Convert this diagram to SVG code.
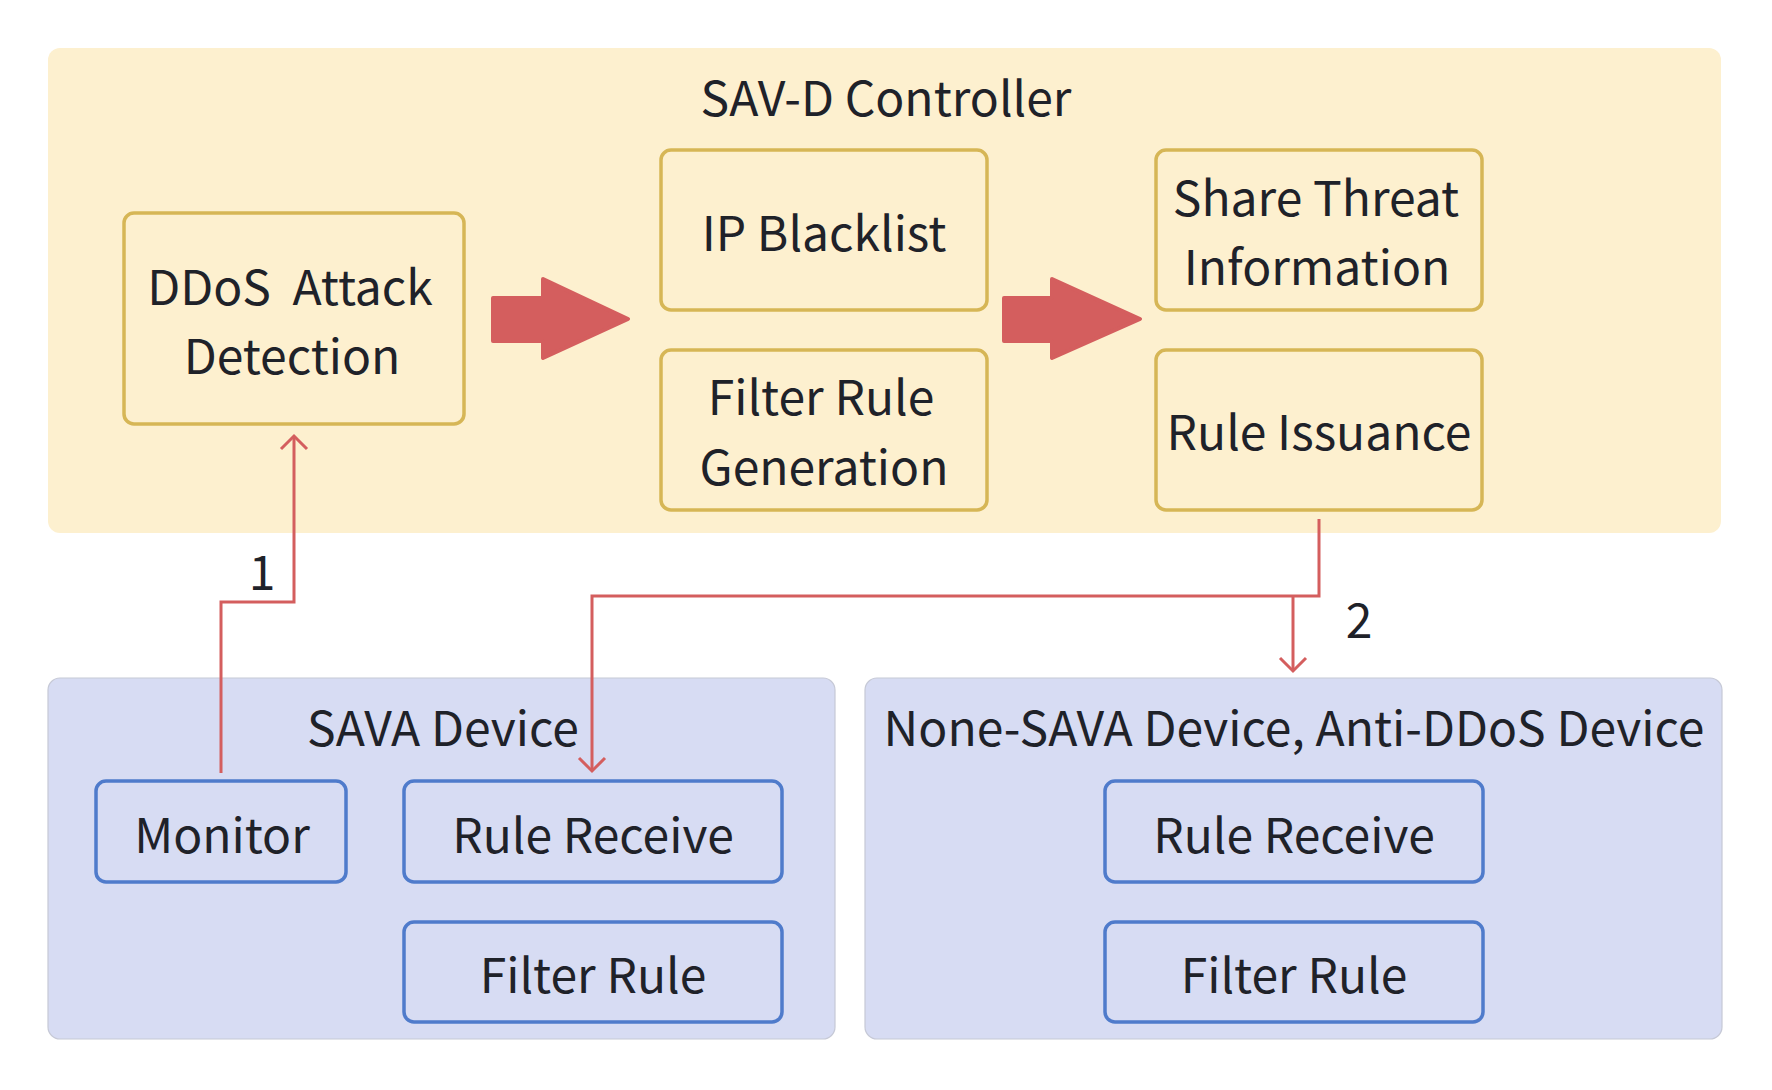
<svg xmlns="http://www.w3.org/2000/svg" width="1772" height="1090" viewBox="0 0 1772 1090">
  <defs>
    <style>
      text { font-family: "Noto Sans CJK SC", "Source Sans 3", "Liberation Sans", sans-serif; font-size: 48px; fill: #1f2229; text-anchor: middle; }
      .panelY { fill: #fdf0cf; }
      .panelB { fill: #d7dcf3; stroke: #c6c9d6; stroke-width: 1.2; }
      .boxY { fill: #fdf0cf; stroke: #d6b656; stroke-width: 3.5; }
      .boxB { fill: #d7dcf3; stroke: #4f7bcb; stroke-width: 3.5; }
      .bigArrow { fill: #d45e5e; stroke: #d45e5e; stroke-width: 4; stroke-linejoin: round; }
      .conn { fill: none; stroke: #d45e5e; stroke-width: 3; }
    </style>
    <marker id="open" markerUnits="userSpaceOnUse" markerWidth="40" markerHeight="40" viewBox="-20 -20 40 40" refX="0" refY="0" orient="auto">
      <path d="M-13,-13 L0,0 L-13,13" fill="none" stroke="#d45e5e" stroke-width="3"/>
    </marker>
  </defs>

  <rect width="1772" height="1090" fill="#ffffff"/>

  <g id="controller">
    <rect class="panelY" x="48" y="48" width="1673" height="485" rx="12"/>
    <text x="886" y="116">SAV-D Controller</text>
  </g>

  <g id="ddos-detection">
    <rect class="boxY" x="124" y="213" width="340" height="211" rx="10"/>
    <text x="290" y="305" style="white-space:pre" xml:space="preserve">DDoS  Attack</text>
    <text x="292" y="374">Detection</text>
  </g>

  <g id="ip-blacklist">
    <rect class="boxY" x="661" y="150" width="326" height="160" rx="10"/>
    <text x="824" y="251">IP Blacklist</text>
  </g>

  <g id="filter-rule-generation">
    <rect class="boxY" x="661" y="350" width="326" height="160" rx="10"/>
    <text x="821" y="415">Filter Rule</text>
    <text x="824" y="485">Generation</text>
  </g>

  <g id="share-threat">
    <rect class="boxY" x="1156" y="150" width="326" height="160" rx="10"/>
    <text x="1316" y="216">Share Threat</text>
    <text x="1317" y="285">Information</text>
  </g>

  <g id="rule-issuance">
    <rect class="boxY" x="1156" y="350" width="326" height="160" rx="10"/>
    <text x="1319" y="450">Rule Issuance</text>
  </g>

  <g id="arrow-a">
    <polygon class="bigArrow" points="493,298 543,298 543,279 628,319 543,358 543,341 493,341"/>
  </g>
  <g id="arrow-b">
    <polygon class="bigArrow" points="1004,298 1052,298 1052,279 1140,319 1052,358 1052,341 1004,341"/>
  </g>

  <g id="sava-device">
    <rect class="panelB" x="48" y="678" width="787" height="361" rx="12"/>
    <text x="443" y="746">SAVA Device</text>
  </g>

  <g id="monitor">
    <rect class="boxB" x="96" y="781" width="250" height="101" rx="10"/>
    <text x="222" y="853">Monitor</text>
  </g>

  <g id="sava-rule-receive">
    <rect class="boxB" x="404" y="781" width="378" height="101" rx="10"/>
    <text x="593" y="853">Rule Receive</text>
  </g>

  <g id="sava-filter-rule">
    <rect class="boxB" x="404" y="922" width="378" height="100" rx="10"/>
    <text x="593" y="993">Filter Rule</text>
  </g>

  <g id="none-sava-device">
    <rect class="panelB" x="865" y="678" width="857" height="361" rx="12"/>
    <text x="1294" y="746">None-SAVA Device, Anti-DDoS Device</text>
  </g>

  <g id="none-sava-rule-receive">
    <rect class="boxB" x="1105" y="781" width="378" height="101" rx="10"/>
    <text x="1294" y="853">Rule Receive</text>
  </g>

  <g id="none-sava-filter-rule">
    <rect class="boxB" x="1105" y="922" width="378" height="100" rx="10"/>
    <text x="1294" y="993">Filter Rule</text>
  </g>

  <g id="connectors">
    <path class="conn" d="M221,773 V602 H294 V436" marker-end="url(#open)"/>
    <text x="262" y="590">1</text>
    <path class="conn" d="M1319,519 V596 H592 V771" marker-end="url(#open)"/>
    <path class="conn" d="M1293,596 V671" marker-end="url(#open)"/>
    <text x="1359" y="638">2</text>
  </g>
</svg>
